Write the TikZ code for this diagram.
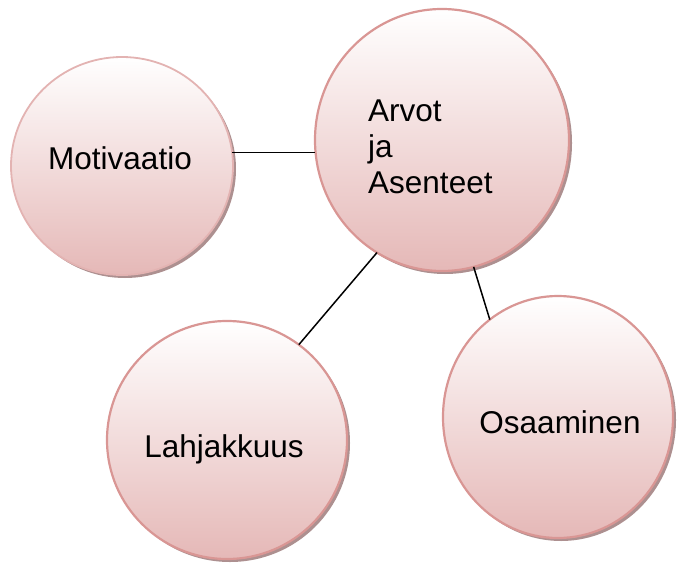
\documentclass[tikz,border=0pt]{standalone}
\usepackage{fontspec}
\setmainfont{Liberation Sans}
\usetikzlibrary{shapes.geometric,shadows}
\definecolor{rimrose}{HTML}{D99694}
\definecolor{rimlight}{HTML}{E3B3B2}
\definecolor{fillrose}{HTML}{E5B8B7}
\definecolor{shadowrose}{HTML}{AD9090}
\begin{document}
\begin{tikzpicture}[x=1pt,y=-1pt,
  bubble/.style={ellipse, draw=rimrose, line width=2.2pt,
    top color=white, bottom color=fillrose,
    inner sep=0pt, outer sep=0pt,
    drop shadow={shadow xshift=3pt, shadow yshift=-3pt, fill=shadowrose, opacity=1}},
  word/.style={font=\fontsize{31.5}{36}\selectfont, inner sep=0pt, anchor=base},
  link/.style={draw=black, line width=1.5pt}]
\useasboundingbox (0,0) rectangle (679,564);

% the four bubbles
\node[bubble, draw=rimlight, line width=1.8pt, minimum width=222pt, minimum height=218pt] (motivaatio) at (122,166) {};
\node[bubble, minimum width=254pt, minimum height=262pt] (arvot) at (442,140) {};
\node[bubble, minimum width=240pt, minimum height=238pt] (lahjakkuus) at (227,440) {};
\node[bubble, minimum width=230pt, minimum height=242pt] (osaaminen) at (558,417) {};

% labels
\node[word] (motivaatiotext) at (120,169) {Motivaatio};
\node[word] (lahjakkuustext) at (224,457) {Lahjakkuus};
\node[word] (osaaminentext) at (560,433) {Osaaminen};
\node[font=\fontsize{31.5}{36}\selectfont, align=left, anchor=north west, inner sep=0pt] (arvottext) at (368,99.5) {Arvot\\ja\\Asenteet};

% connectors
\draw[link] (motivaatio.7) -- (motivaatio.7 -| arvot.west);
\draw[link] (arvot.240) -- (lahjakkuus.53);
\draw[link] (arvot.284) -- (osaaminen.125);
\end{tikzpicture}
\end{document}
